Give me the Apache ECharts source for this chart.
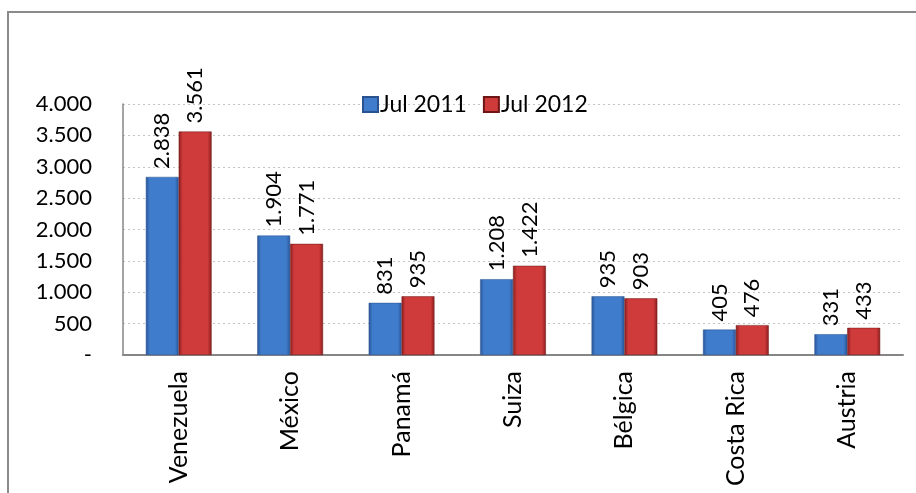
<!DOCTYPE html>
<html>
<head>
<meta charset="utf-8">
<script src="https://cdn.jsdelivr.net/npm/echarts@6/dist/echarts.min.js"></script>
<style>
html,body{margin:0;padding:0;background:#fff;}
#chart{width:916px;height:493px;}
</style>
</head>
<body>
<div id="chart"></div>
<script>
const categories = ['Venezuela', 'México', 'Panamá', 'Suiza', 'Bélgica', 'Costa Rica', 'Austria'];
const seriesNames = ['Jul 2011', 'Jul 2012'];
const jul2011 = [2838, 1904, 831, 1208, 935, 405, 331];
const jul2012 = [3561, 1771, 935, 1422, 903, 476, 433];
const yTicks = { min: 0, max: 4000, interval: 500 };

function fmt(v) {
  if (v === 0) return '-';
  return String(Math.round(v)).replace(/\B(?=(\d{3})+(?!\d))/g, '.');
}
function grad(edge, mid) {
  return new echarts.graphic.LinearGradient(0, 0, 1, 0, [
    { offset: 0, color: edge },
    { offset: 0.12, color: mid },
    { offset: 0.88, color: mid },
    { offset: 1, color: edge }
  ]);
}
const FONT = 'Lato, "Noto Sans", sans-serif';
const chart = echarts.init(document.getElementById('chart'));
const labelCfg = {
  show: true,
  position: 'top',
  rotate: 90,
  align: 'left',
  verticalAlign: 'middle',
  distance: 8,
  fontFamily: FONT,
  fontSize: 22,
  color: '#000',
  formatter: p => fmt(p.value)
};
chart.setOption({
  animation: false,
  textStyle: { fontFamily: FONT },
  graphic: [{
    type: 'rect',
    shape: { x: 8, y: 12, width: 940, height: 520 },
    style: { fill: 'none', stroke: '#8a8a8a', lineWidth: 2 },
    silent: true
  }],
  legend: {
    data: seriesNames,
    top: 88,
    left: 357,
    icon: 'rect',
    itemWidth: 15,
    itemHeight: 15,
    itemGap: 16,
    textStyle: { fontSize: 23, color: '#000', fontFamily: FONT, padding: [0, 0, 0, -3] }
  },
  grid: { left: 123, right: 13, top: 104, bottom: 138 },
  xAxis: {
    type: 'category',
    data: categories,
    axisLine: { lineStyle: { color: '#868686', width: 2 } },
    axisTick: { show: false },
    axisLabel: { rotate: 90, fontSize: 25, color: '#000', margin: 16, fontFamily: FONT }
  },
  yAxis: {
    type: 'value',
    min: yTicks.min, max: yTicks.max, interval: yTicks.interval,
    axisLine: { show: true, lineStyle: { color: '#868686', width: 1.5 } },
    axisTick: { show: false },
    splitLine: { lineStyle: { color: '#c4c4c4', type: [2, 3], width: 1 } },
    axisLabel: { fontSize: 22, color: '#000', margin: 31, fontFamily: FONT, formatter: fmt }
  },
  series: [
    {
      name: seriesNames[0], type: 'bar', data: jul2011,
      barCategoryGap: '41%', barGap: '0%',
      itemStyle: { color: grad('#2a5598', '#3f7ccc'), borderColor: '#2a528f', borderWidth: 0.5 },
      label: labelCfg
    },
    {
      name: seriesNames[1], type: 'bar', data: jul2012,
      barCategoryGap: '41%', barGap: '0%',
      itemStyle: { color: grad('#8a1e1e', '#cf3a3a'), borderColor: '#6e1616', borderWidth: 0.5 },
      label: labelCfg
    }
  ]
});
</script>
</body>
</html>
